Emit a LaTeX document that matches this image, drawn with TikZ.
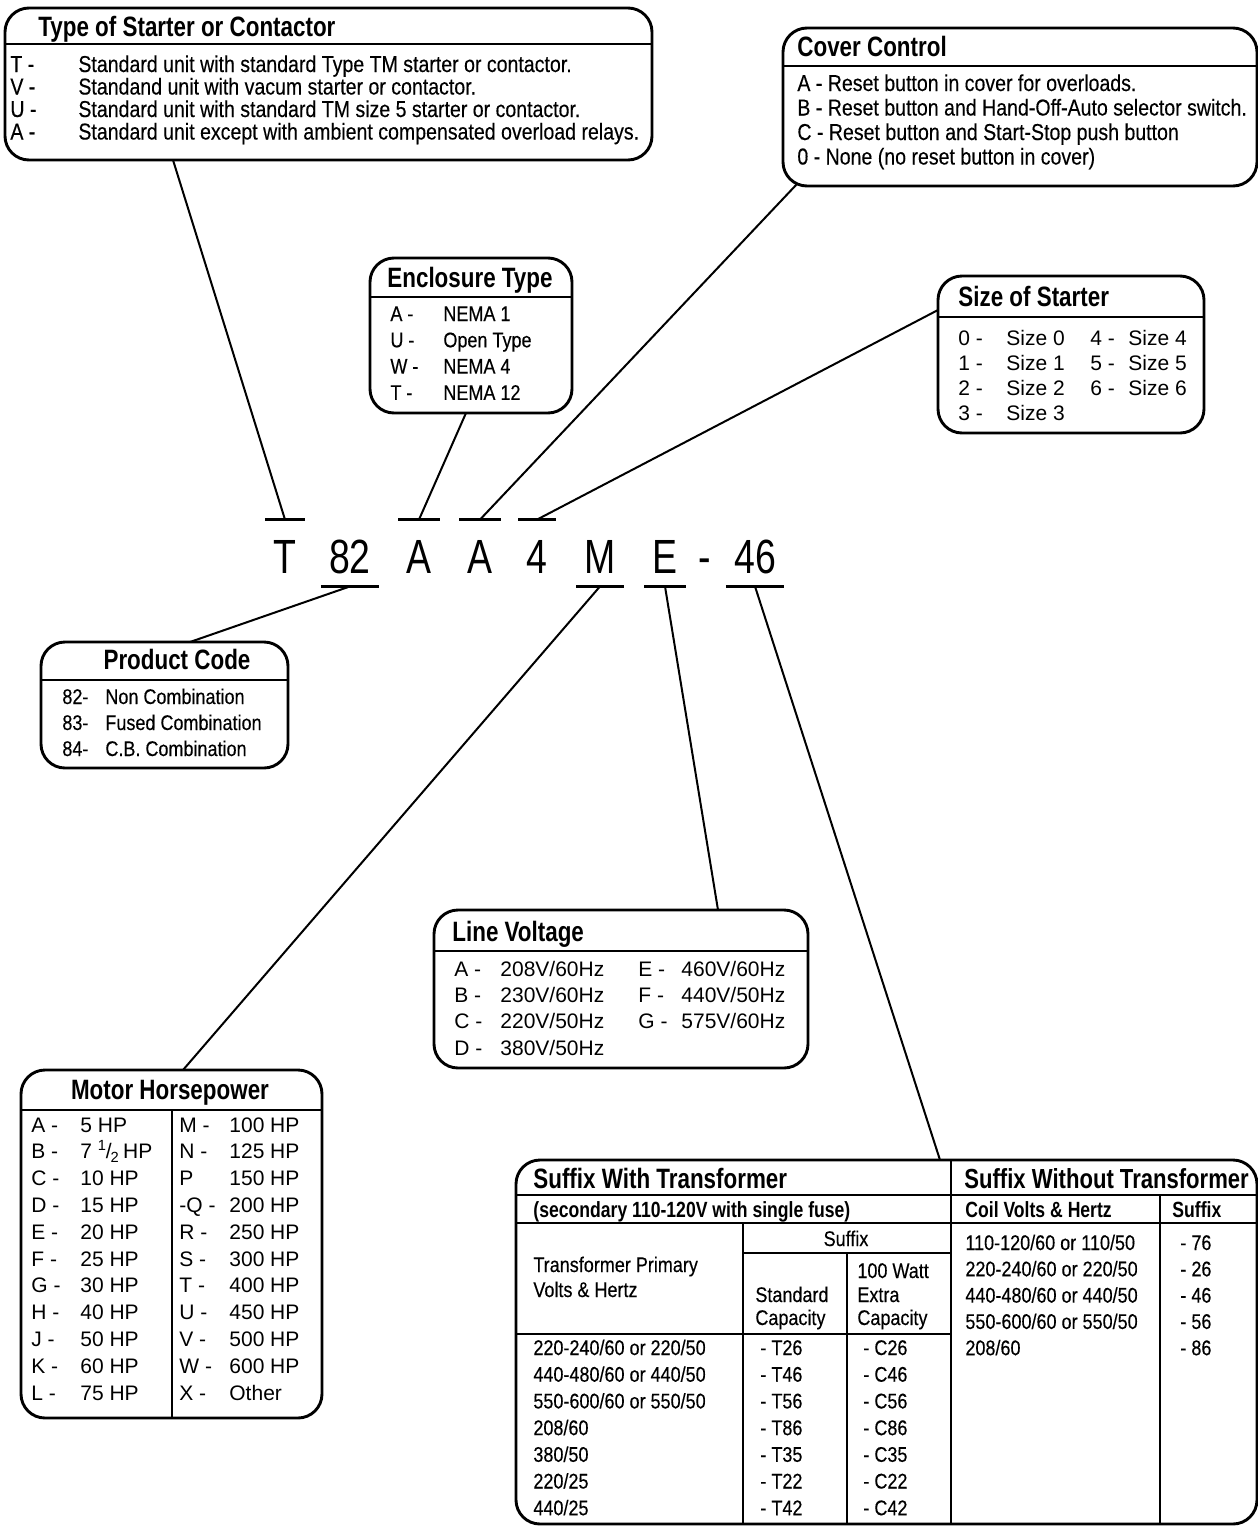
\documentclass[tikz,border=0pt]{standalone}
\usepackage{fontspec}
\usetikzlibrary{calc}
\setmainfont{Liberation Sans}
\newfontfamily\cnd[FakeStretch=0.85,FakeBold=0.3]{Liberation Sans}
\newfontfamily\hdf[FakeStretch=0.8]{Liberation Sans}
\newfontfamily\codef[FakeStretch=0.78]{Liberation Sans}
\tikzset{
 keybox/.style={draw,line width=1.45pt,rounded corners=12pt},
 hdrule/.style={line width=1.2pt},
 lead/.style={line width=1pt},
 codetick/.style={line width=1.3pt},
 ttl/.style={font=\hdf\bfseries\fontsize{14}{14}\selectfont,inner sep=0pt,anchor=base west},
 subttl/.style={font=\hdf\bfseries\fontsize{11}{11}\selectfont,inner sep=0pt,anchor=base west},
 rowtxt/.style={font=\cnd\fontsize{11.5}{11.5}\selectfont,inner sep=0pt,anchor=base west},
 smalltxt/.style={font=\cnd\fontsize{10.6}{10.6}\selectfont,inner sep=0pt,anchor=base west},
 widetxt/.style={font=\fontsize{10.5}{10.5}\selectfont,inner sep=0pt,anchor=base west},
 codech/.style={font=\codef\fontsize{24}{24}\selectfont,anchor=base,inner xsep=4pt,inner ysep=0pt,
   text height=26.5pt,text depth=6.5pt}
}

\begin{document}
\begin{tikzpicture}[x=0.5pt,y=-0.5pt]
 \useasboundingbox (0,0) rectangle (1258,1526);
 % catalogue number
 \foreach \n/\t/\x in {cT/T/285,c82/82/350,cAa/A/419,cAb/A/480,cF/4/537,cM/M/600,cE/E/665,cD/-/705,cS/46/755}
  \node[codech] (\n) at (\x,573) {\t};
 \foreach \n in {cT,cAa,cAb,cF} \draw[codetick] (\n.north west) -- (\n.north east);
 \foreach \n in {c82,cM,cE,cS} \draw[codetick] (\n.south west) -- (\n.south east);

 % Type of Starter or Contactor
 \draw[keybox] (5,8) rectangle (652,160);
 \draw[hdrule] (5,44) -- (652,44);
 \node[ttl] (tsT) at (38,36) {Type of Starter or Contactor};
 \foreach \i/\k/\d in {0/T/{Standard unit with standard Type TM starter or contactor.},
   1/V/{Standand unit with vacum starter or contactor.},
   2/U/{Standard unit with standard TM size 5 starter or contactor.},
   3/A/{Standard unit except with ambient compensated overload relays.}}{
  \node[rowtxt] (tsK\i) at (10,{72+22.5*\i}) {\k\ -};
  \node[rowtxt] (tsD\i) at (78,{72+22.5*\i}) {\d};
 }
 \coordinate (tsFoot) at (173,160);

 % Cover Control
 \draw[keybox] (783,28) rectangle (1257,186);
 \draw[hdrule] (783,66) -- (1257,66);
 \node[ttl] (ccT) at (797,56) {Cover Control};
 \foreach \i/\d in {0/{A - Reset button in cover for overloads.},
   1/{B - Reset button and Hand-Off-Auto selector switch.},
   2/{C - Reset button and Start-Stop push button},
   3/{0 - None (no reset button in cover)}}
  \node[rowtxt] (ccD\i) at (797,{91+24.5*\i}) {\d};
 \coordinate (ccFoot) at (797,184);

 % Enclosure Type
 \draw[keybox] (370,258) rectangle (572,413);
 \draw[hdrule] (370,297) -- (572,297);
 \node[ttl,anchor=base] (enT) at (470,287) {Enclosure Type};
 \foreach \i/\k/\d in {0/A/NEMA 1,1/U/Open Type,2/W/NEMA 4,3/T/NEMA 12}{
  \node[smalltxt] (enK\i) at (390,{321+26.3*\i}) {\k\ -};
  \node[smalltxt] (enD\i) at (443,{321+26.3*\i}) {\d};
 }
 \coordinate (enFoot) at (466,413);

 % Size of Starter
 \draw[keybox] (938,276) rectangle (1204,433);
 \draw[hdrule] (938,317) -- (1204,317);
 \node[ttl] (ssT) at (958,306) {Size of Starter};
 \foreach \i in {0,...,3}{
  \node[widetxt] (ssK\i) at (958,{345+25*\i}) {\i\ -};
  \node[widetxt] (ssD\i) at (1006,{345+25*\i}) {Size \i};
 }
 \foreach \i in {4,5,6}{
  \node[widetxt] (ssK\i) at (1090,{345+25*(\i-4)}) {\i\ -};
  \node[widetxt] (ssD\i) at (1128,{345+25*(\i-4)}) {Size \i};
 }
 \coordinate (ssFoot) at (938,310);

 % Product Code
 \draw[keybox] (41,642) rectangle (288,768);
 \draw[hdrule] (41,680) -- (288,680);
 \node[ttl,anchor=base] (pcT) at (177,669) {Product Code};
 \foreach \i/\k/\d in {0/82/Non Combination,1/83/Fused Combination,2/84/C.B. Combination}{
  \node[smalltxt] (pcK\i) at (62,{704+26*\i}) {\k-};
  \node[smalltxt] (pcD\i) at (105,{704+26*\i}) {\d};
 }
 \coordinate (pcTop) at (190,642);

 % Line Voltage
 \draw[keybox] (434,910) rectangle (808,1068);
 \draw[hdrule] (434,951) -- (808,951);
 \node[ttl] (lvT) at (452,941) {Line Voltage};
 \foreach \i/\k/\d in {0/A/{208V/60Hz},1/B/{230V/60Hz},2/C/{220V/50Hz},3/D/{380V/50Hz}}{
  \node[widetxt] (lvK\i) at (454,{976+26.4*\i}) {\k\ -};
  \node[widetxt] (lvD\i) at (500,{976+26.4*\i}) {\d};
 }
 \foreach \i/\k/\d in {0/E/{460V/60Hz},1/F/{440V/50Hz},2/G/{575V/60Hz}}{
  \node[widetxt] (lvL\i) at (638,{976+26.4*\i}) {\k\ -};
  \node[widetxt] (lvE\i) at (681,{976+26.4*\i}) {\d};
 }
 \coordinate (lvTop) at (718,910);

 % Motor Horsepower
 \draw[keybox] (21,1070) rectangle (322,1418);
 \draw[hdrule] (21,1110) -- (322,1110);
 \draw[hdrule] (172,1110) -- (172,1418);
 \node[ttl,anchor=base] (mhT) at (170,1099) {Motor Horsepower};
 \foreach \i/\k/\d in {0/A -/5 HP,1/B -/{7 \textsuperscript{1}\kern-.6pt/\kern-.6pt\textsubscript{2}\,HP},
   2/C -/10 HP,3/D -/15 HP,4/E -/20 HP,5/F -/25 HP,6/G -/30 HP,7/H -/40 HP,8/J -/50 HP,
   9/K -/60 HP,10/L -/75 HP}{
  \node[widetxt] (mhK\i) at (31,{1132+26.8*\i}) {\k};
  \node[widetxt] (mhD\i) at (80,{1132+26.8*\i}) {\d};
 }
 \foreach \i/\k/\d in {0/M -/100 HP,1/N -/125 HP,2/P/150 HP,3/-Q -/200 HP,4/R -/250 HP,
   5/S -/300 HP,6/T -/400 HP,7/U -/450 HP,8/V -/500 HP,9/W -/600 HP,10/X -/Other}{
  \node[widetxt] (mhL\i) at (179,{1132+26.8*\i}) {\k};
  \node[widetxt] (mhE\i) at (229,{1132+26.8*\i}) {\d};
 }
 \coordinate (mhTop) at (183,1070);

 % Suffix tables
 \draw[keybox] (516,1160) rectangle (1257,1524);
 \draw[hdrule] (516,1195) -- (1257,1195);
 \draw[hdrule] (516,1223) -- (1257,1223);
 \draw[hdrule] (951,1160) -- (951,1524);
 \draw[hdrule] (743,1223) -- (743,1524);
 \draw[hdrule] (743,1253) -- (951,1253);
 \draw[hdrule] (847,1253) -- (847,1524);
 \draw[hdrule] (516,1334) -- (951,1334);
 \draw[hdrule] (1160,1195) -- (1160,1524);
 \node[ttl] (swT) at (533,1188) {Suffix With Transformer};
 \node[subttl] (swS) at (533,1217) {(secondary 110-120V with single fuse)};
 \node[smalltxt,anchor=base] (swH) at (846,1246) {Suffix};
 \node[smalltxt] (swP) at (533,1272) {Transformer Primary};
 \node[smalltxt] (swV) at (533,1297) {Volts \& Hertz};
 \node[smalltxt] (swA) at (755,1302) {Standard};
 \node[smalltxt] (swB) at (755,1325) {Capacity};
 \node[smalltxt] (swC) at (857,1278) {100 Watt};
 \node[smalltxt] (swE) at (857,1302) {Extra};
 \node[smalltxt] (swF) at (857,1325) {Capacity};
 \foreach \i/\a/\b/\c in {0/{220-240/60 or 220/50}/T26/C26,1/{440-480/60 or 440/50}/T46/C46,
   2/{550-600/60 or 550/50}/T56/C56,3/{208/60}/T86/C86,4/{380/50}/T35/C35,
   5/{220/25}/T22/C22,6/{440/25}/T42/C42}{
  \node[smalltxt] (swR\i) at (533,{1355+26.7*\i}) {\a};
  \node[smalltxt] (swX\i) at (760,{1355+26.7*\i}) {- \b};
  \node[smalltxt] (swY\i) at (863,{1355+26.7*\i}) {- \c};
 }
 \node[ttl,font=\hdf\bfseries\fontsize{13.8}{14}\selectfont] (soT) at (964,1188) {Suffix Without Transformer};
 \node[subttl] (soA) at (965,1217) {Coil Volts \& Hertz};
 \node[subttl] (soB) at (1172,1217) {Suffix};
 \foreach \i/\a/\b in {0/{110-120/60 or 110/50}/76,1/{220-240/60 or 220/50}/26,
   2/{440-480/60 or 440/50}/46,3/{550-600/60 or 550/50}/56,4/{208/60}/86}{
  \node[smalltxt] (soR\i) at (965,{1250+26.3*\i}) {\a};
  \node[smalltxt] (soX\i) at (1180,{1250+26.3*\i}) {- \b};
 }
 \coordinate (sfTop) at (940,1160);

 % leaders
 \draw[lead] (tsFoot) -- (cT.north);
 \draw[lead] (enFoot) -- (cAa.north);
 \draw[lead] (ccFoot) -- (cAb.north);
 \draw[lead] (ssFoot) -- (cF.north);
 \draw[lead] (pcTop) -- (c82.south);
 \draw[lead] (mhTop) -- (cM.south);
 \draw[lead] (lvTop) -- (cE.south);
 \draw[lead] (sfTop) -- (cS.south);
\end{tikzpicture}
\end{document}
